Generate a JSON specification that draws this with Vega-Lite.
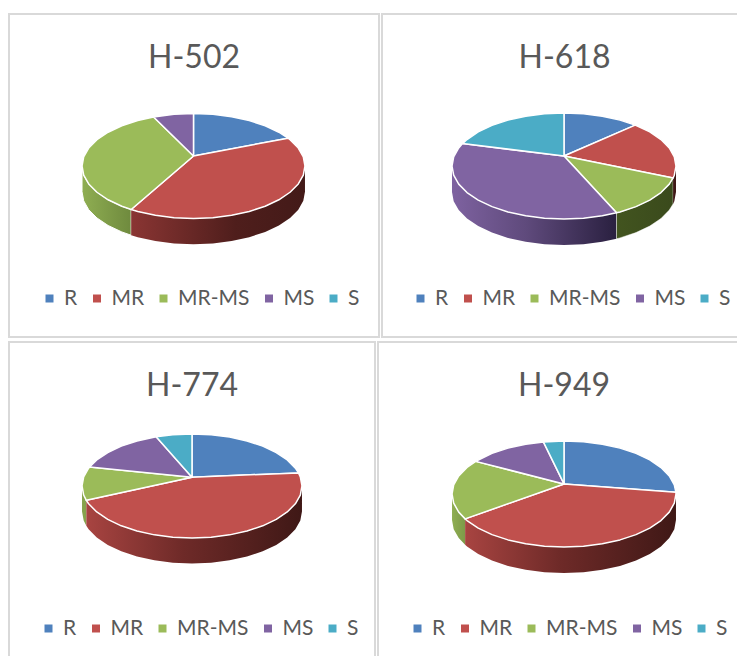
{
"$schema":"https://vega.github.io/schema/vega-lite/v6.json",
"background":"#ffffff",
"padding":{"left":8,"top":13,"right":0,"bottom":0},
"autosize":{"type":"pad"},
"config":{
"view":{"stroke":"#d9d9d9","strokeWidth":2,"fill":"#ffffff"},
"title":{"font":"Lato","fontSize":32,"fontWeight":"normal","color":"#595959","anchor":"middle","offset":-61},
"legend":{"title":null,"orient":"none","direction":"horizontal","columns":5,"gridAlign":"none","columnPadding":8.5,"symbolType":"square","symbolSize":64,"symbolStrokeWidth":0,"labelFont":"Lato","labelFontSize":21,"labelColor":"#595959","labelOffset":4,"padding":0}
},
"resolve":{"scale":{"fill":"independent"},"legend":{"fill":"independent"}},
"spacing":3,
"vconcat":[
{"spacing":1,"resolve":{"scale":{"fill":"independent"},"legend":{"fill":"independent"}},"hconcat":[
{"title":"H-502","width":370,"height":323,
"encoding":{"x":{"field":"x","type":"quantitative","axis":null,"scale":{"domain":[-1.655,1.664],"nice":false,"zero":false}},"y":{"field":"y","type":"quantitative","axis":null,"scale":{"domain":[-3.257,2.895],"nice":false,"zero":false}}},
"layer":[
{"data":{"values":[{"x":-1,"y":0,"y2":-0.49},{"x":-0.985,"y":-0.174,"y2":-0.664},{"x":-0.94,"y":-0.342,"y2":-0.832},{"x":-0.866,"y":-0.5,"y2":-0.99},{"x":-0.766,"y":-0.643,"y2":-1.133},{"x":-0.643,"y":-0.766,"y2":-1.256},{"x":-0.559,"y":-0.829,"y2":-1.319}]},
"mark":{"type":"area","stroke":"#ffffff","strokeWidth":1,"fill":{"gradient":"linear","x1":0,"y1":0,"x2":1,"y2":0,"stops":[{"offset":0,"color":"#8fae52"},{"offset":1,"color":"#6f8a3e"}]}},"encoding":{"y2":{"field":"y2"}}},
{"data":{"values":[{"x":-0.559,"y":-0.829,"y2":-1.319},{"x":-0.5,"y":-0.866,"y2":-1.356},{"x":-0.342,"y":-0.94,"y2":-1.43},{"x":-0.174,"y":-0.985,"y2":-1.475},{"x":0,"y":-1,"y2":-1.49},{"x":0.174,"y":-0.985,"y2":-1.475},{"x":0.342,"y":-0.94,"y2":-1.43},{"x":0.5,"y":-0.866,"y2":-1.356},{"x":0.643,"y":-0.766,"y2":-1.256},{"x":0.766,"y":-0.643,"y2":-1.133},{"x":0.866,"y":-0.5,"y2":-0.99},{"x":0.94,"y":-0.342,"y2":-0.832},{"x":0.985,"y":-0.174,"y2":-0.664},{"x":1,"y":0,"y2":-0.49}]},
"mark":{"type":"area","fill":{"gradient":"linear","x1":0,"y1":0,"x2":1,"y2":0,"stops":[{"offset":0,"color":"#8a3533"},{"offset":0.6,"color":"#4f1e1c"},{"offset":1,"color":"#431a18"}]}},"encoding":{"y2":{"field":"y2"}}},
{"data":{"values":[
{"c":"R","x":0,"y":0.19},{"c":"R","x":0,"y":1},{"c":"R","x":0.174,"y":0.985},{"c":"R","x":0.342,"y":0.94},{"c":"R","x":0.5,"y":0.866},{"c":"R","x":0.643,"y":0.766},{"c":"R","x":0.766,"y":0.643},{"c":"R","x":0.848,"y":0.53},{"c":"R","x":0,"y":0.19},
{"c":"MR","x":0,"y":0.19},{"c":"MR","x":0.848,"y":0.53},{"c":"MR","x":0.866,"y":0.5},{"c":"MR","x":0.94,"y":0.342},{"c":"MR","x":0.985,"y":0.174},{"c":"MR","x":1,"y":0},{"c":"MR","x":0.985,"y":-0.174},{"c":"MR","x":0.94,"y":-0.342},{"c":"MR","x":0.866,"y":-0.5},{"c":"MR","x":0.766,"y":-0.643},{"c":"MR","x":0.643,"y":-0.766},{"c":"MR","x":0.5,"y":-0.866},{"c":"MR","x":0.342,"y":-0.94},{"c":"MR","x":0.174,"y":-0.985},{"c":"MR","x":0,"y":-1},{"c":"MR","x":-0.174,"y":-0.985},{"c":"MR","x":-0.342,"y":-0.94},{"c":"MR","x":-0.5,"y":-0.866},{"c":"MR","x":-0.559,"y":-0.829},{"c":"MR","x":0,"y":0.19},
{"c":"MR-MS","x":0,"y":0.19},{"c":"MR-MS","x":-0.559,"y":-0.829},{"c":"MR-MS","x":-0.643,"y":-0.766},{"c":"MR-MS","x":-0.766,"y":-0.643},{"c":"MR-MS","x":-0.866,"y":-0.5},{"c":"MR-MS","x":-0.94,"y":-0.342},{"c":"MR-MS","x":-0.985,"y":-0.174},{"c":"MR-MS","x":-1,"y":0},{"c":"MR-MS","x":-0.985,"y":0.174},{"c":"MR-MS","x":-0.94,"y":0.342},{"c":"MR-MS","x":-0.866,"y":0.5},{"c":"MR-MS","x":-0.766,"y":0.643},{"c":"MR-MS","x":-0.643,"y":0.766},{"c":"MR-MS","x":-0.5,"y":0.866},{"c":"MR-MS","x":-0.358,"y":0.934},{"c":"MR-MS","x":0,"y":0.19},
{"c":"MS","x":0,"y":0.19},{"c":"MS","x":-0.358,"y":0.934},{"c":"MS","x":-0.174,"y":0.985},{"c":"MS","x":0,"y":1},{"c":"MS","x":0,"y":0.19}
]},
"mark":{"type":"line","stroke":"#ffffff","strokeWidth":1.5,"strokeJoin":"round"},
"encoding":{"order":{"value":null},"fill":{"field":"c","type":"nominal","scale":{"domain":["R","MR","MR-MS","MS","S"],"range":["#4f81bd","#c0504d","#9bbb59","#8064a2","#4bacc6"]},"legend":{"legendX":30,"legendY":274}}}}
]},
{"title":"H-618","width":365,"height":323,
"encoding":{"x":{"field":"x","type":"quantitative","axis":null,"scale":{"domain":[-1.625,1.634],"nice":false,"zero":false}},"y":{"field":"y","type":"quantitative","axis":null,"scale":{"domain":[-3.226,2.868],"nice":false,"zero":false}}},
"layer":[
{"data":{"values":[{"x":-1,"y":0,"y2":-0.49},{"x":-0.985,"y":-0.174,"y2":-0.664},{"x":-0.94,"y":-0.342,"y2":-0.832},{"x":-0.866,"y":-0.5,"y2":-0.99},{"x":-0.766,"y":-0.643,"y2":-1.133},{"x":-0.643,"y":-0.766,"y2":-1.256},{"x":-0.5,"y":-0.866,"y2":-1.356},{"x":-0.342,"y":-0.94,"y2":-1.43},{"x":-0.174,"y":-0.985,"y2":-1.475},{"x":0,"y":-1,"y2":-1.49},{"x":0.174,"y":-0.985,"y2":-1.475},{"x":0.342,"y":-0.94,"y2":-1.43},{"x":0.469,"y":-0.883,"y2":-1.373}]},
"mark":{"type":"area","fill":{"gradient":"linear","x1":0,"y1":0,"x2":1,"y2":0,"stops":[{"offset":0,"color":"#7e62a0"},{"offset":0.45,"color":"#5f4a7c"},{"offset":1,"color":"#2a2040"}]}},"encoding":{"y2":{"field":"y2"}}},
{"data":{"values":[{"x":0.469,"y":-0.883,"y2":-1.373},{"x":0.5,"y":-0.866,"y2":-1.356},{"x":0.643,"y":-0.766,"y2":-1.256},{"x":0.766,"y":-0.643,"y2":-1.133},{"x":0.866,"y":-0.5,"y2":-0.99},{"x":0.94,"y":-0.342,"y2":-0.832},{"x":0.974,"y":-0.225,"y2":-0.715}]},
"mark":{"type":"area","stroke":"#ffffff","strokeWidth":0.5,"fill":{"gradient":"linear","x1":0,"y1":0,"x2":1,"y2":0,"stops":[{"offset":0,"color":"#42541f"},{"offset":1,"color":"#3a4a1c"}]}},"encoding":{"y2":{"field":"y2"}}},
{"data":{"values":[{"x":0.974,"y":-0.225,"y2":-0.715},{"x":0.985,"y":-0.174,"y2":-0.664},{"x":1,"y":0,"y2":-0.49}]},
"mark":{"type":"area","fill":"#3f1816"},"encoding":{"y2":{"field":"y2"}}},
{"data":{"values":[
{"c":"R","x":0,"y":0.19},{"c":"R","x":0,"y":1},{"c":"R","x":0.174,"y":0.985},{"c":"R","x":0.342,"y":0.94},{"c":"R","x":0.5,"y":0.866},{"c":"R","x":0.636,"y":0.772},{"c":"R","x":0,"y":0.19},
{"c":"MR","x":0,"y":0.19},{"c":"MR","x":0.636,"y":0.772},{"c":"MR","x":0.766,"y":0.643},{"c":"MR","x":0.866,"y":0.5},{"c":"MR","x":0.94,"y":0.342},{"c":"MR","x":0.985,"y":0.174},{"c":"MR","x":1,"y":0},{"c":"MR","x":0.985,"y":-0.174},{"c":"MR","x":0.974,"y":-0.225},{"c":"MR","x":0,"y":0.19},
{"c":"MR-MS","x":0,"y":0.19},{"c":"MR-MS","x":0.974,"y":-0.225},{"c":"MR-MS","x":0.94,"y":-0.342},{"c":"MR-MS","x":0.866,"y":-0.5},{"c":"MR-MS","x":0.766,"y":-0.643},{"c":"MR-MS","x":0.643,"y":-0.766},{"c":"MR-MS","x":0.5,"y":-0.866},{"c":"MR-MS","x":0.469,"y":-0.883},{"c":"MR-MS","x":0,"y":0.19},
{"c":"MS","x":0,"y":0.19},{"c":"MS","x":0.469,"y":-0.883},{"c":"MS","x":0.342,"y":-0.94},{"c":"MS","x":0.174,"y":-0.985},{"c":"MS","x":0,"y":-1},{"c":"MS","x":-0.174,"y":-0.985},{"c":"MS","x":-0.342,"y":-0.94},{"c":"MS","x":-0.5,"y":-0.866},{"c":"MS","x":-0.643,"y":-0.766},{"c":"MS","x":-0.766,"y":-0.643},{"c":"MS","x":-0.866,"y":-0.5},{"c":"MS","x":-0.94,"y":-0.342},{"c":"MS","x":-0.985,"y":-0.174},{"c":"MS","x":-1,"y":0},{"c":"MS","x":-0.985,"y":0.174},{"c":"MS","x":-0.94,"y":0.342},{"c":"MS","x":-0.906,"y":0.423},{"c":"MS","x":0,"y":0.19},
{"c":"S","x":0,"y":0.19},{"c":"S","x":-0.906,"y":0.423},{"c":"S","x":-0.866,"y":0.5},{"c":"S","x":-0.766,"y":0.643},{"c":"S","x":-0.643,"y":0.766},{"c":"S","x":-0.5,"y":0.866},{"c":"S","x":-0.342,"y":0.94},{"c":"S","x":-0.174,"y":0.985},{"c":"S","x":0,"y":1},{"c":"S","x":0,"y":0.19}
]},
"mark":{"type":"line","stroke":"#ffffff","strokeWidth":1.5,"strokeJoin":"round"},
"encoding":{"order":{"value":null},"fill":{"field":"c","type":"nominal","scale":{"domain":["R","MR","MR-MS","MS","S"],"range":["#4f81bd","#c0504d","#9bbb59","#8064a2","#4bacc6"]},"legend":{"legendX":28,"legendY":274}}}}
]}
]},
{"spacing":1,"resolve":{"scale":{"fill":"independent"},"legend":{"fill":"independent"}},"hconcat":[
{"title":"H-774","width":366,"height":324,
"encoding":{"x":{"field":"x","type":"quantitative","axis":null,"scale":{"domain":[-1.664,1.664],"nice":false,"zero":false}},"y":{"field":"y","type":"quantitative","axis":null,"scale":{"domain":[-3.462,2.769],"nice":false,"zero":false}}},
"layer":[
{"data":{"values":[{"x":-1,"y":0,"y2":-0.49},{"x":-0.985,"y":-0.174,"y2":-0.664},{"x":-0.961,"y":-0.276,"y2":-0.766}]},
"mark":{"type":"area","fill":"#86a34c"},"encoding":{"y2":{"field":"y2"}}},
{"data":{"values":[{"x":-0.961,"y":-0.276,"y2":-0.766},{"x":-0.94,"y":-0.342,"y2":-0.832},{"x":-0.866,"y":-0.5,"y2":-0.99},{"x":-0.766,"y":-0.643,"y2":-1.133},{"x":-0.643,"y":-0.766,"y2":-1.256},{"x":-0.5,"y":-0.866,"y2":-1.356},{"x":-0.342,"y":-0.94,"y2":-1.43},{"x":-0.174,"y":-0.985,"y2":-1.475},{"x":0,"y":-1,"y2":-1.49},{"x":0.174,"y":-0.985,"y2":-1.475},{"x":0.342,"y":-0.94,"y2":-1.43},{"x":0.5,"y":-0.866,"y2":-1.356},{"x":0.643,"y":-0.766,"y2":-1.256},{"x":0.766,"y":-0.643,"y2":-1.133},{"x":0.866,"y":-0.5,"y2":-0.99},{"x":0.94,"y":-0.342,"y2":-0.832},{"x":0.985,"y":-0.174,"y2":-0.664},{"x":1,"y":0,"y2":-0.49}]},
"mark":{"type":"area","fill":{"gradient":"linear","x1":0,"y1":0,"x2":1,"y2":0,"stops":[{"offset":0,"color":"#a84441"},{"offset":0.45,"color":"#6e2a28"},{"offset":1,"color":"#3f1816"}]}},"encoding":{"y2":{"field":"y2"}}},
{"data":{"values":[
{"c":"R","x":0,"y":0.17},{"c":"R","x":0,"y":1},{"c":"R","x":0.174,"y":0.985},{"c":"R","x":0.342,"y":0.94},{"c":"R","x":0.5,"y":0.866},{"c":"R","x":0.643,"y":0.766},{"c":"R","x":0.766,"y":0.643},{"c":"R","x":0.866,"y":0.5},{"c":"R","x":0.94,"y":0.342},{"c":"R","x":0.968,"y":0.252},{"c":"R","x":0,"y":0.17},
{"c":"MR","x":0,"y":0.17},{"c":"MR","x":0.968,"y":0.252},{"c":"MR","x":0.985,"y":0.174},{"c":"MR","x":1,"y":0},{"c":"MR","x":0.985,"y":-0.174},{"c":"MR","x":0.94,"y":-0.342},{"c":"MR","x":0.866,"y":-0.5},{"c":"MR","x":0.766,"y":-0.643},{"c":"MR","x":0.643,"y":-0.766},{"c":"MR","x":0.5,"y":-0.866},{"c":"MR","x":0.342,"y":-0.94},{"c":"MR","x":0.174,"y":-0.985},{"c":"MR","x":0,"y":-1},{"c":"MR","x":-0.174,"y":-0.985},{"c":"MR","x":-0.342,"y":-0.94},{"c":"MR","x":-0.5,"y":-0.866},{"c":"MR","x":-0.643,"y":-0.766},{"c":"MR","x":-0.766,"y":-0.643},{"c":"MR","x":-0.866,"y":-0.5},{"c":"MR","x":-0.94,"y":-0.342},{"c":"MR","x":-0.961,"y":-0.276},{"c":"MR","x":0,"y":0.17},
{"c":"MR-MS","x":0,"y":0.17},{"c":"MR-MS","x":-0.961,"y":-0.276},{"c":"MR-MS","x":-0.985,"y":-0.174},{"c":"MR-MS","x":-1,"y":0},{"c":"MR-MS","x":-0.985,"y":0.174},{"c":"MR-MS","x":-0.94,"y":0.342},{"c":"MR-MS","x":-0.931,"y":0.365},{"c":"MR-MS","x":0,"y":0.17},
{"c":"MS","x":0,"y":0.17},{"c":"MS","x":-0.931,"y":0.365},{"c":"MS","x":-0.866,"y":0.5},{"c":"MS","x":-0.766,"y":0.643},{"c":"MS","x":-0.643,"y":0.766},{"c":"MS","x":-0.5,"y":0.866},{"c":"MS","x":-0.326,"y":0.946},{"c":"MS","x":0,"y":0.17},
{"c":"S","x":0,"y":0.17},{"c":"S","x":-0.326,"y":0.946},{"c":"S","x":-0.174,"y":0.985},{"c":"S","x":0,"y":1},{"c":"S","x":0,"y":0.17}
]},
"mark":{"type":"line","stroke":"#ffffff","strokeWidth":1.5,"strokeJoin":"round"},
"encoding":{"order":{"value":null},"fill":{"field":"c","type":"nominal","scale":{"domain":["R","MR","MR-MS","MS","S"],"range":["#4f81bd","#c0504d","#9bbb59","#8064a2","#4bacc6"]},"legend":{"legendX":29,"legendY":276}}}}
]},
{"title":"H-949","width":372,"height":324,
"encoding":{"x":{"field":"x","type":"quantitative","axis":null,"scale":{"domain":[-1.661,1.661],"nice":false,"zero":false}},"y":{"field":"y","type":"quantitative","axis":null,"scale":{"domain":[-3.245,2.868],"nice":false,"zero":false}}},
"layer":[
{"data":{"values":[{"x":-1,"y":0,"y2":-0.49},{"x":-0.985,"y":-0.174,"y2":-0.664},{"x":-0.94,"y":-0.342,"y2":-0.832},{"x":-0.883,"y":-0.469,"y2":-0.959}]},
"mark":{"type":"area","fill":{"gradient":"linear","x1":0,"y1":0,"x2":1,"y2":0,"stops":[{"offset":0,"color":"#8fae52"},{"offset":1,"color":"#7d9a48"}]}},"encoding":{"y2":{"field":"y2"}}},
{"data":{"values":[{"x":-0.883,"y":-0.469,"y2":-0.959},{"x":-0.866,"y":-0.5,"y2":-0.99},{"x":-0.766,"y":-0.643,"y2":-1.133},{"x":-0.643,"y":-0.766,"y2":-1.256},{"x":-0.5,"y":-0.866,"y2":-1.356},{"x":-0.342,"y":-0.94,"y2":-1.43},{"x":-0.174,"y":-0.985,"y2":-1.475},{"x":0,"y":-1,"y2":-1.49},{"x":0.174,"y":-0.985,"y2":-1.475},{"x":0.342,"y":-0.94,"y2":-1.43},{"x":0.5,"y":-0.866,"y2":-1.356},{"x":0.643,"y":-0.766,"y2":-1.256},{"x":0.766,"y":-0.643,"y2":-1.133},{"x":0.866,"y":-0.5,"y2":-0.99},{"x":0.94,"y":-0.342,"y2":-0.832},{"x":0.985,"y":-0.174,"y2":-0.664},{"x":1,"y":0,"y2":-0.49}]},
"mark":{"type":"area","fill":{"gradient":"linear","x1":0,"y1":0,"x2":1,"y2":0,"stops":[{"offset":0,"color":"#a84441"},{"offset":0.45,"color":"#6e2a28"},{"offset":1,"color":"#3f1816"}]}},"encoding":{"y2":{"field":"y2"}}},
{"data":{"values":[
{"c":"R","x":0,"y":0.19},{"c":"R","x":0,"y":1},{"c":"R","x":0.174,"y":0.985},{"c":"R","x":0.342,"y":0.94},{"c":"R","x":0.5,"y":0.866},{"c":"R","x":0.643,"y":0.766},{"c":"R","x":0.766,"y":0.643},{"c":"R","x":0.866,"y":0.5},{"c":"R","x":0.94,"y":0.342},{"c":"R","x":0.985,"y":0.174},{"c":"R","x":0.999,"y":0.035},{"c":"R","x":0,"y":0.19},
{"c":"MR","x":0,"y":0.19},{"c":"MR","x":0.999,"y":0.035},{"c":"MR","x":1,"y":0},{"c":"MR","x":0.985,"y":-0.174},{"c":"MR","x":0.94,"y":-0.342},{"c":"MR","x":0.866,"y":-0.5},{"c":"MR","x":0.766,"y":-0.643},{"c":"MR","x":0.643,"y":-0.766},{"c":"MR","x":0.5,"y":-0.866},{"c":"MR","x":0.342,"y":-0.94},{"c":"MR","x":0.174,"y":-0.985},{"c":"MR","x":0,"y":-1},{"c":"MR","x":-0.174,"y":-0.985},{"c":"MR","x":-0.342,"y":-0.94},{"c":"MR","x":-0.5,"y":-0.866},{"c":"MR","x":-0.643,"y":-0.766},{"c":"MR","x":-0.766,"y":-0.643},{"c":"MR","x":-0.866,"y":-0.5},{"c":"MR","x":-0.883,"y":-0.469},{"c":"MR","x":0,"y":0.19},
{"c":"MR-MS","x":0,"y":0.19},{"c":"MR-MS","x":-0.883,"y":-0.469},{"c":"MR-MS","x":-0.94,"y":-0.342},{"c":"MR-MS","x":-0.985,"y":-0.174},{"c":"MR-MS","x":-1,"y":0},{"c":"MR-MS","x":-0.985,"y":0.174},{"c":"MR-MS","x":-0.94,"y":0.342},{"c":"MR-MS","x":-0.866,"y":0.5},{"c":"MR-MS","x":-0.788,"y":0.616},{"c":"MR-MS","x":0,"y":0.19},
{"c":"MS","x":0,"y":0.19},{"c":"MS","x":-0.788,"y":0.616},{"c":"MS","x":-0.643,"y":0.766},{"c":"MS","x":-0.5,"y":0.866},{"c":"MS","x":-0.342,"y":0.94},{"c":"MS","x":-0.184,"y":0.983},{"c":"MS","x":0,"y":0.19},
{"c":"S","x":0,"y":0.19},{"c":"S","x":-0.184,"y":0.983},{"c":"S","x":0,"y":1},{"c":"S","x":0,"y":0.19}
]},
"mark":{"type":"line","stroke":"#ffffff","strokeWidth":1.5,"strokeJoin":"round"},
"encoding":{"order":{"value":null},"fill":{"field":"c","type":"nominal","scale":{"domain":["R","MR","MR-MS","MS","S"],"range":["#4f81bd","#c0504d","#9bbb59","#8064a2","#4bacc6"]},"legend":{"legendX":29,"legendY":276}}}}
]}
]}
]
}
